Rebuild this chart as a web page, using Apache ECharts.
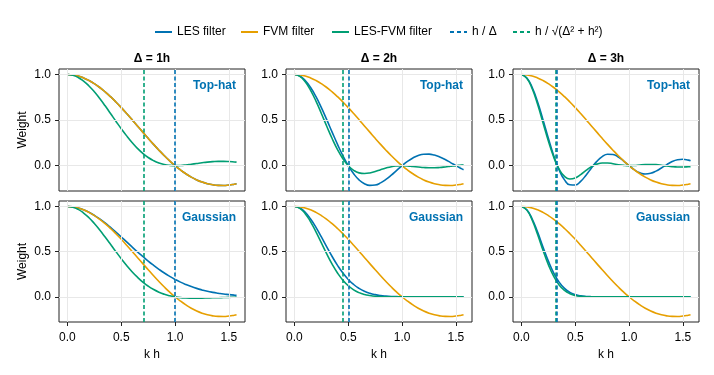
<!DOCTYPE html>
<html><head><meta charset="utf-8">
<script src="https://cdn.jsdelivr.net/npm/echarts@6/dist/echarts.min.js"></script>
<style>html,body{margin:0;padding:0;background:#fff}#c{width:714px;height:375px}</style>
</head><body><div id="c"></div>
<script>
// ---- data ----
const kh = [0,0.05,0.1,0.15,0.2,0.25,0.3,0.35,0.4,0.45,0.5,0.55,0.6,0.65,0.7,0.75,0.8,0.85,0.9,0.95,1.0,1.05,1.1,1.15,1.2,1.25,1.3,1.35,1.4,1.45,1.5,1.55,1.5708];

const FVM = [1,0.996,0.984,0.963,0.935,0.900,0.858,0.810,0.757,0.699,0.637,0.572,0.505,0.436,0.368,0.300,0.234,0.170,0.109,0.052,0.000,-0.047,-0.089,-0.126,-0.156,-0.180,-0.198,-0.210,-0.216,-0.217,-0.212,-0.203,-0.198];

const LES_TOPHAT_1 = [1,0.996,0.984,0.963,0.935,0.900,0.858,0.810,0.757,0.699,0.637,0.572,0.505,0.436,0.368,0.300,0.234,0.170,0.109,0.052,0.000,-0.047,-0.089,-0.126,-0.156,-0.180,-0.198,-0.210,-0.216,-0.217,-0.212,-0.203,-0.198];
const LES_TOPHAT_2 = [1,0.984,0.935,0.858,0.757,0.637,0.505,0.368,0.234,0.109,0,-0.089,-0.156,-0.198,-0.216,-0.212,-0.189,-0.151,-0.104,-0.052,0,0.047,0.085,0.112,0.126,0.127,0.116,0.095,0.067,0.034,0,-0.032,-0.044];
const LES_TOPHAT_3 = [1,0.963,0.858,0.699,0.505,0.300,0.109,-0.047,-0.156,-0.210,-0.212,-0.172,-0.104,-0.026,0.047,0.100,0.126,0.123,0.095,0.051,0,-0.046,-0.078,-0.091,-0.084,-0.060,-0.025,0.012,0.045,0.065,0.071,0.061,0.053];

const LESFVM_TOPHAT_1 = [1,0.992,0.968,0.928,0.875,0.811,0.737,0.657,0.573,0.488,0.405,0.327,0.255,0.190,0.135,0.090,0.055,0.029,0.012,0.003,0,0.002,0.008,0.016,0.024,0.032,0.039,0.044,0.047,0.047,0.045,0.041,0.039];
const LESFVM_TOPHAT_2 = [1,0.980,0.920,0.827,0.708,0.573,0.433,0.298,0.177,0.076,0,-0.051,-0.079,-0.086,-0.080,-0.064,-0.044,-0.026,-0.011,-0.003,0,-0.002,-0.008,-0.014,-0.020,-0.023,-0.023,-0.020,-0.014,-0.007,0,0.006,0.009];
const LESFVM_TOPHAT_3 = [1,0.959,0.844,0.673,0.472,0.270,0.094,-0.038,-0.118,-0.147,-0.135,-0.098,-0.052,-0.011,0.017,0.030,0.030,0.021,0.010,0.003,0,0.002,0.007,0.011,0.013,0.011,0.005,-0.003,-0.010,-0.014,-0.015,-0.012,-0.010];

const LES_GAUSS_1 = [1,0.996,0.984,0.964,0.936,0.902,0.862,0.818,0.769,0.717,0.663,0.608,0.553,0.499,0.447,0.396,0.349,0.305,0.264,0.227,0.193,0.163,0.137,0.114,0.094,0.077,0.062,0.050,0.040,0.031,0.025,0.019,0.017];
const LES_GAUSS_2 = [1,0.984,0.936,0.862,0.769,0.663,0.553,0.447,0.349,0.264,0.193,0.137,0.094,0.062,0.040,0.025,0.015,0.009,0.005,0.003,0.001,0.001,0,0,0,0,0,0,0,0,0,0,0];
const LES_GAUSS_3 = [1,0.964,0.862,0.717,0.553,0.396,0.264,0.163,0.094,0.050,0.025,0.011,0.005,0.002,0.001,0,0,0,0,0,0,0,0,0,0,0,0,0,0,0,0,0,0];

const LESFVM_GAUSS_1 = [1,0.992,0.968,0.928,0.876,0.812,0.740,0.662,0.582,0.501,0.422,0.348,0.279,0.218,0.164,0.119,0.082,0.052,0.029,0.012,0,-0.008,-0.012,-0.014,-0.015,-0.014,-0.012,-0.010,-0.009,-0.007,-0.005,-0.004,-0.003];
const LESFVM_GAUSS_2 = [1,0.980,0.921,0.831,0.719,0.597,0.475,0.362,0.264,0.184,0.123,0.078,0.047,0.027,0.015,0.007,0.003,0.001,0.001,0,0,0,0,0,0,0,0,0,0,0,0,0,0];
const LESFVM_GAUSS_3 = [1,0.960,0.848,0.690,0.517,0.357,0.226,0.132,0.071,0.035,0.016,0.006,0.002,0.001,0,0,0,0,0,0,0,0,0,0,0,0,0,0,0,0,0,0,0];

const deltaTitles = ['Δ = 1h','Δ = 2h','Δ = 3h'];
const filterNames = ['Top-hat','Gaussian'];
const hOverDelta = [1.0, 0.5, 0.3333];
const hOverSqrt = [0.7071, 0.4472, 0.3162];
const xTicks = [0, 0.5, 1.0, 1.5];
const yTicks = [0, 0.5, 1.0];
const seriesNames = ['LES filter','FVM filter','LES-FVM filter','h / Δ','h / √(Δ² + h²)'];

const LES = [[LES_TOPHAT_1,LES_TOPHAT_2,LES_TOPHAT_3],[LES_GAUSS_1,LES_GAUSS_2,LES_GAUSS_3]];
const LESFVM = [[LESFVM_TOPHAT_1,LESFVM_TOPHAT_2,LESFVM_TOPHAT_3],[LESFVM_GAUSS_1,LESFVM_GAUSS_2,LESFVM_GAUSS_3]];

// ---- style / layout ----
const BLUE = '#0072B2', ORANGE = '#E69F00', GREEN = '#009E73';
const FONT = '"Liberation Sans", Arial, Helvetica, sans-serif';
const XMIN = -0.0785, XMAX = 1.6493, YMIN = -0.278, YMAX = 1.061;
const colLeft = [59, 286, 513], colW = 186;
const rowTop = [69, 201], rowH = [122, 121];
const FRAME = '#222222', GRIDC = '#e8e8e8';
const legendLeft = [149, 235, 326, 444, 507];

const pairs = arr => kh.map((x, i) => [x, arr[i]]);

const grids = [], xAxes = [], yAxes = [], series = [], graphics = [];
let gi = 0;
for (let r = 0; r < 2; r++) {
  for (let c = 0; c < 3; c++) {
    grids.push({left: colLeft[c], top: rowTop[r], width: colW, height: rowH[r], show: true,
      borderColor: FRAME, borderWidth: 1, backgroundColor: 'transparent', containLabel: false});
    xAxes.push({gridIndex: gi, type: 'value', min: XMIN, max: XMAX, position: 'bottom',
      axisLine: {show: false, onZero: false},
      axisTick: {show: r === 1, length: 4, lineStyle: {color: FRAME}, customValues: xTicks},
      axisLabel: {show: r === 1, customValues: xTicks, formatter: v => v.toFixed(1), margin: 10,
        fontSize: 12, color: '#000', fontFamily: FONT},
      splitLine: {show: false},
      name: r === 1 ? 'k h' : '', nameLocation: 'middle', nameGap: 27,
      nameTextStyle: {fontSize: 12, color: '#000', fontFamily: FONT}});
    yAxes.push({gridIndex: gi, type: 'value', min: YMIN, max: YMAX, position: 'left',
      axisLine: {show: false, onZero: false},
      axisTick: {show: true, length: 4, lineStyle: {color: FRAME}, customValues: yTicks},
      axisLabel: {customValues: yTicks, formatter: v => v.toFixed(1), margin: 8,
        fontSize: 12, color: '#000', fontFamily: FONT},
      splitLine: {show: false},
      name: c === 0 ? 'Weight' : '', nameLocation: 'middle', nameGap: 30, nameRotate: 90,
      nameTextStyle: {fontSize: 12, color: '#000', fontFamily: FONT}});

    const base = {type: 'line', xAxisIndex: gi, yAxisIndex: gi, symbol: 'none', smooth: true, silent: true};
    series.push(Object.assign({}, base, {name: '_grid', data: [], z: 1,
      markLine: {silent: true, symbol: ['none','none'], label: {show: false}, animation: false,
        lineStyle: {color: GRIDC, width: 1, type: 'solid'},
        data: xTicks.map(v => ({xAxis: v})).concat(yTicks.map(v => ({yAxis: v})))}}));
    series.push(Object.assign({}, base, {name: seriesNames[0], data: pairs(LES[r][c]),
      itemStyle: {color: BLUE}, lineStyle: {color: BLUE, width: 1.6}}));
    series.push(Object.assign({}, base, {name: seriesNames[1], data: pairs(FVM),
      itemStyle: {color: ORANGE}, lineStyle: {color: ORANGE, width: 1.6}}));
    series.push(Object.assign({}, base, {name: seriesNames[2], data: pairs(LESFVM[r][c]),
      itemStyle: {color: GREEN}, lineStyle: {color: GREEN, width: 1.6}}));
    series.push(Object.assign({}, base, {name: seriesNames[4], data: [],
      itemStyle: {color: GREEN}, lineStyle: {color: GREEN, width: 1.6, type: [4, 3]},
      markLine: {silent: true, symbol: ['none','none'], label: {show: false}, animation: false,
        lineStyle: {color: GREEN, width: 1.6, type: [4, 2.5]}, data: [{xAxis: hOverSqrt[c]}]}}));
    series.push(Object.assign({}, base, {name: seriesNames[3], data: [],
      itemStyle: {color: BLUE}, lineStyle: {color: BLUE, width: 1.6, type: [4, 3]},
      markLine: {silent: true, symbol: ['none','none'], label: {show: false}, animation: false,
        lineStyle: {color: BLUE, width: 1.6, type: [4, 2.5]}, data: [{xAxis: hOverDelta[c]}]}}));

    graphics.push({type: 'text', x: colLeft[c] + colW - 9, y: rowTop[r] + 17, z: 100,
      style: {text: filterNames[r], fill: BLUE, font: 'bold 12px ' + FONT, align: 'right', verticalAlign: 'middle'}});
    if (r === 0) {
      graphics.push({type: 'text', x: colLeft[c] + colW / 2, y: 59, z: 100,
        style: {text: deltaTitles[c], fill: '#000', font: 'bold 12px ' + FONT, align: 'center', verticalAlign: 'middle'}});
    }
    gi++;
  }
}

const legends = seriesNames.map((n, i) => ({top: 21, left: legendLeft[i], itemWidth: 17, itemHeight: 2,
  textStyle: {fontSize: 12, color: '#000', fontFamily: FONT}, data: [n]}));

const chart = echarts.init(document.getElementById('c'), null, {renderer: 'canvas'});
chart.setOption({
  animation: false,
  backgroundColor: '#fff',
  textStyle: {fontFamily: FONT},
  legend: legends,
  grid: grids, xAxis: xAxes, yAxis: yAxes, series: series, graphic: graphics
});
</script></body></html>
